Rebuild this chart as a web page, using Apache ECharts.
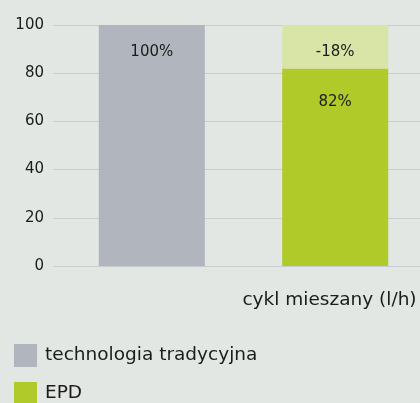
<!DOCTYPE html>
<html>
<head>
<meta charset="utf-8">
<script src="https://cdn.jsdelivr.net/npm/echarts@6/dist/echarts.min.js"></script>
<style>
  html, body { margin: 0; padding: 0; background: #e2e7e3; }
  #main { width: 420px; height: 403px; }
</style>
</head>
<body>
<div id="main"></div>
<script>
var categories = ['cykl mieszany (l/h)'];
var traditional = [100];
var epd = [82];
var reduction = [18];
var yTicks = { min: 0, max: 100, interval: 20 };

var textColor = '#1c1c1c';
var font = 'DejaVu Sans';

var myChart = echarts.init(document.getElementById('main'));

var option = {
  backgroundColor: '#e2e7e3',
  textStyle: { fontFamily: font },
  grid: { left: 53, width: 381, top: 25, bottom: 137, outerBoundsMode: 'none' },
  legend: {
    orient: 'vertical',
    left: 9,
    top: 339,
    height: 90,
    itemWidth: 23,
    itemHeight: 23,
    itemGap: 15,
    icon: 'rect',
    data: ['technologia tradycyjna', 'EPD'],
    textStyle: { fontSize: 18.5, color: textColor, fontFamily: font, padding: [0, 0, 0, 3] }
  },
  xAxis: {
    type: 'category',
    data: categories,
    axisLine: { show: false },
    axisTick: { show: false },
    axisLabel: {
      fontSize: 18.5,
      color: textColor,
      margin: 25,
      align: 'center',
      padding: [0, 0, 0, 172]
    }
  },
  yAxis: {
    type: 'value',
    min: yTicks.min,
    max: yTicks.max,
    interval: yTicks.interval,
    axisLine: { show: false },
    axisTick: { show: false },
    splitLine: { lineStyle: { color: '#c8ccd0', width: 1 } },
    axisLabel: { fontSize: 15, color: textColor, margin: 9 }
  },
  series: [
    {
      name: 'technologia tradycyjna',
      type: 'bar',
      data: traditional,
      barWidth: 106,
      barGap: '73%',
      itemStyle: { color: '#b1b5bd' },
      label: {
        show: true,
        position: 'insideTop',
        distance: 20,
        fontSize: 15,
        color: textColor,
        formatter: '{c}%'
      }
    },
    {
      name: 'EPD',
      type: 'bar',
      stack: 'epd',
      data: epd,
      barWidth: 106,
      itemStyle: { color: '#afca29' },
      label: {
        show: true,
        position: 'insideTop',
        distance: 26,
        fontSize: 15,
        color: textColor,
        formatter: '{c}%'
      }
    },
    {
      name: 'redukcja',
      type: 'bar',
      stack: 'epd',
      data: reduction,
      barWidth: 106,
      itemStyle: { color: '#d9e5a6' },
      label: {
        show: true,
        position: 'insideTop',
        distance: 20,
        fontSize: 15,
        color: textColor,
        formatter: function (p) { return '-' + p.value + '%'; }
      }
    }
  ]
};

myChart.setOption(option);
</script>
</body>
</html>
